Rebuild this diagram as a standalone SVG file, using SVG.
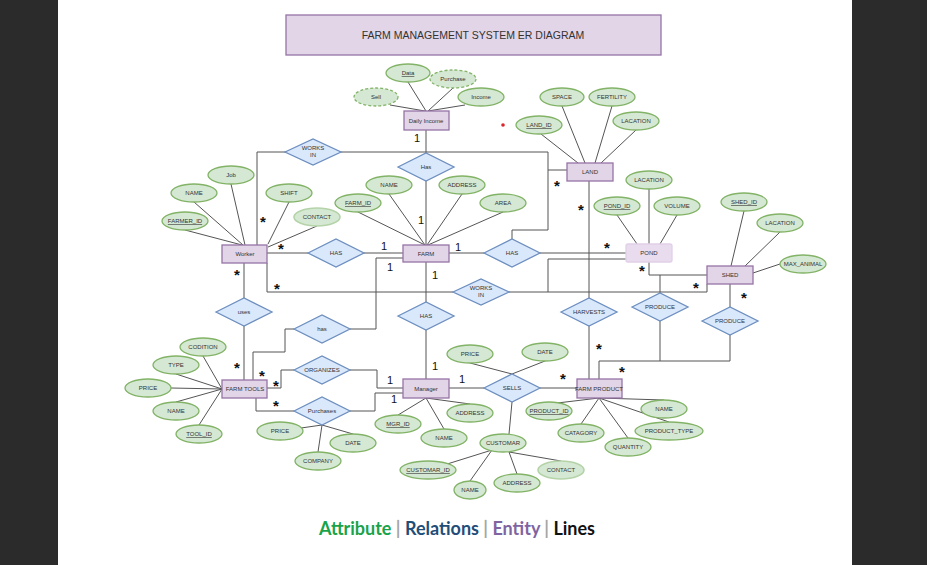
<svg xmlns="http://www.w3.org/2000/svg" width="927" height="565" viewBox="0 0 927 565">
<style>
text{font-family:"Liberation Sans",Arial,sans-serif;fill:#333}
.at ellipse{fill:#d5e8d4;stroke:#82b366;stroke-width:1.3}
.at text{font-size:6px;text-anchor:middle}
.u{text-decoration:underline}
.dash ellipse{stroke-dasharray:3 2}
.lt ellipse{stroke:#b5d3a8;stroke-width:1.6}
.rel polygon{fill:#dae8fc;stroke:#6c8ebf;stroke-width:1.3}
.rel text{font-size:6px;text-anchor:middle}
.ent rect{fill:#e1d5e7;stroke:#9673a6;stroke-width:1.3}
.ent text{font-size:6px;text-anchor:middle}
.ln path,.ln line{stroke:#555;stroke-width:1;fill:none}
.st{font-size:15px;font-weight:bold;fill:#111;text-anchor:middle}
.one{font-size:11px;fill:#111;text-anchor:middle}
</style>
<rect x="0" y="0" width="927" height="565" fill="#2b2b2b"/>
<rect x="58" y="0" width="794" height="565" fill="#ffffff"/>
<g id="title"><rect x="286" y="15" width="375" height="40" fill="#e1d5e7" stroke="#9673a6" stroke-width="1.3"/><text x="473" y="39" style="font-size:10.5px;text-anchor:middle">FARM MANAGEMENT SYSTEM ER DIAGRAM</text></g>
<circle cx="503" cy="125" r="1.8" fill="#d9262b"/>

<g class="ln" id="connectors">
<path d="M408,82 L426,111 M453,88 L428,111 M390,105 L425,111 M465,105 L428,111"/>
<path d="M426,130 V153 M426,181 V245"/>
<path d="M257,245 V152 H548 V230 H512 V239 M548,170 H567"/>
<path d="M541,134 L578,163 M562,106 L585,163 M612,106 L595,163 M636,130 L601,163"/>
<path d="M231,184 L245,245 M194,202 L243,245 M185,230 L242,245 M289,202 L268,244 M317,226 L268,247"/>
<path d="M267,253 H308 M364,253 H403 M449,253 H484 M540,253 H627"/>
<path d="M358,212 L425,245 M389,194 L425,245 M462,194 L427,245 M503,212 L428,245"/>
<path d="M649,189 V244 M617,215 L637,244 M677,215 L660,244"/>
<path d="M744,211 L731,266 M780,232 L745,266 M780,264 L753,273"/>
<path d="M627,259 H548 V292 M649,262 V275 H707"/>
<path d="M267,263 V292 H453 M509,292 H707 V284"/>
<path d="M244,263 V298 M244,326 V380"/>
<path d="M403,258 H376 V329 H350 M294,329 H285 V352 H253 V380"/>
<path d="M426,262 V302 M426,330 V379"/>
<path d="M267,388 H281 V370 H294 M350,370 H377 V388 H403"/>
<path d="M256,398 V411 H294 M350,411 H375 V393 H403"/>
<path d="M449,388 H484 M540,388 H577"/>
<path d="M589,181 V298 M589,326 V379"/>
<path d="M660,275 V293 M660,321 V361 M730,284 V307 M730,335 V361 M599,379 V361 H730"/>
<path d="M222,389 L203,356 M222,389 L176,374 M222,389 L171,388 M222,389 L176,402 M222,389 L199,425"/>
<path d="M322,425 L280,431 M322,425 L353,434 M322,425 L318,452"/>
<path d="M470,363 L512,374 M545,361 L512,374"/>
<path d="M426,398 L398,415 M426,398 L444,429 M426,398 L470,404"/>
<path d="M512,402 L509,434"/>
<path d="M492,450 L428,470 M492,450 L470,481 M509,452 L517,474 M509,452 L561,461"/>
<path d="M599,398 L549,404 M599,398 L664,400 M599,398 L581,424 M599,398 L669,422 M599,398 L628,438"/>
</g>

<g id="e_daily" class="ent"><rect x="404" y="111" width="45" height="19"/><text x="426" y="123">Daily Income</text></g>
<g id="e_land" class="ent"><rect x="567" y="163" width="46" height="18"/><text x="590" y="174">LAND</text></g>
<g id="e_worker" class="ent"><rect x="222" y="245" width="45" height="18"/><text x="245" y="256">Worker</text></g>
<g id="e_farm" class="ent"><rect x="403" y="245" width="46" height="17"/><text x="426" y="256">FARM</text></g>
<g id="e_pond" class="ent"><rect x="626" y="244" width="46" height="18" rx="2" style="fill:#e8dcee;stroke:#e0d0e8"/><text x="649" y="255">POND</text></g>
<g id="e_shed" class="ent"><rect x="707" y="266" width="46" height="18"/><text x="730" y="277">SHED</text></g>
<g id="e_tools" class="ent"><rect x="222" y="380" width="45" height="18"/><text x="245" y="391">FARM TOOLS</text></g>
<g id="e_manager" class="ent"><rect x="403" y="379" width="46" height="19"/><text x="426" y="391">Manager</text></g>
<g id="e_product" class="ent"><rect x="577" y="379" width="45" height="19"/><text x="599" y="391">FARM PRODUCT</text></g>

<g id="r_worksin1" class="rel"><polygon points="285,152 313,139 341,152 313,165"/><text x="313" y="150">WORKS</text><text x="313" y="157">IN</text></g>
<g id="r_has1" class="rel"><polygon points="398,167 426,153 454,167 426,181"/><text x="426" y="169">Has</text></g>
<g id="r_has2" class="rel"><polygon points="308,253 336,239 364,253 336,267"/><text x="336" y="255">HAS</text></g>
<g id="r_has3" class="rel"><polygon points="484,253 512,239 540,253 512,267"/><text x="512" y="255">HAS</text></g>
<g id="r_worksin2" class="rel"><polygon points="453,292 481,279 509,292 481,305"/><text x="481" y="290">WORKS</text><text x="481" y="297">IN</text></g>
<g id="r_uses" class="rel"><polygon points="216,312 244,298 272,312 244,326"/><text x="244" y="314">uses</text></g>
<g id="r_has4" class="rel"><polygon points="294,329 322,315 350,329 322,343"/><text x="322" y="331">has</text></g>
<g id="r_has5" class="rel"><polygon points="398,316 426,302 454,316 426,330"/><text x="426" y="318">HAS</text></g>
<g id="r_harvests" class="rel"><polygon points="561,312 589,298 617,312 589,326"/><text x="589" y="314">HARVESTS</text></g>
<g id="r_produce1" class="rel"><polygon points="632,307 660,293 688,307 660,321"/><text x="660" y="309">PRODUCE</text></g>
<g id="r_produce2" class="rel"><polygon points="702,321 730,307 758,321 730,335"/><text x="730" y="323">PRODUCE</text></g>
<g id="r_organizes" class="rel"><polygon points="294,370 322,356 350,370 322,384"/><text x="322" y="372">ORGANIZES</text></g>
<g id="r_purchases" class="rel"><polygon points="294,411 322,397 350,411 322,425"/><text x="322" y="413">Purchases</text></g>
<g id="r_sells" class="rel"><polygon points="484,388 512,374 540,388 512,402"/><text x="512" y="390">SELLS</text></g>

<g id="a_data" class="at"><ellipse cx="408" cy="73" rx="22" ry="9"/><text x="408" y="75" class="u">Data</text></g>
<g id="a_purchase" class="at dash"><ellipse cx="453" cy="79" rx="23" ry="9"/><text x="453" y="81">Purchase</text></g>
<g id="a_sell" class="at dash"><ellipse cx="376" cy="97" rx="22" ry="9"/><text x="376" y="99">Sell</text></g>
<g id="a_income" class="at"><ellipse cx="481" cy="97" rx="23" ry="9"/><text x="481" y="99">Income</text></g>
<g id="a_space" class="at"><ellipse cx="562" cy="97" rx="22" ry="9"/><text x="562" y="99">SPACE</text></g>
<g id="a_fertility" class="at"><ellipse cx="612" cy="97" rx="23" ry="9"/><text x="612" y="99">FERTILITY</text></g>
<g id="a_land_loc" class="at"><ellipse cx="636" cy="121" rx="23" ry="9"/><text x="636" y="123">LACATION</text></g>
<g id="a_land_id" class="at"><ellipse cx="539" cy="125" rx="23" ry="9"/><text x="539" y="127" class="u">LAND_ID</text></g>
<g id="a_job" class="at"><ellipse cx="231" cy="175" rx="23" ry="9"/><text x="231" y="177">Job</text></g>
<g id="a_w_name" class="at"><ellipse cx="194" cy="193" rx="23" ry="9"/><text x="194" y="195">NAME</text></g>
<g id="a_shift" class="at"><ellipse cx="289" cy="193" rx="23" ry="9"/><text x="289" y="195">SHIFT</text></g>
<g id="a_farmer_id" class="at"><ellipse cx="185" cy="221" rx="23" ry="9"/><text x="185" y="223" class="u">FARMER_ID</text></g>
<g id="a_w_contact" class="at lt"><ellipse cx="317" cy="217" rx="23" ry="9"/><text x="317" y="219">CONTACT</text></g>
<g id="a_f_name" class="at"><ellipse cx="389" cy="185" rx="23" ry="9"/><text x="389" y="187">NAME</text></g>
<g id="a_f_address" class="at"><ellipse cx="462" cy="185" rx="23" ry="9"/><text x="462" y="187">ADDRESS</text></g>
<g id="a_farm_id" class="at"><ellipse cx="358" cy="203" rx="23" ry="9"/><text x="358" y="205" class="u">FARM_ID</text></g>
<g id="a_area" class="at"><ellipse cx="503" cy="203" rx="23" ry="9"/><text x="503" y="205">AREA</text></g>
<g id="a_pond_loc" class="at"><ellipse cx="649" cy="180" rx="23" ry="9"/><text x="649" y="182">LACATION</text></g>
<g id="a_pond_id" class="at"><ellipse cx="617" cy="206" rx="23" ry="9"/><text x="617" y="208" class="u">POND_ID</text></g>
<g id="a_volume" class="at"><ellipse cx="677" cy="206" rx="23" ry="9"/><text x="677" y="208">VOLUME</text></g>
<g id="a_shed_id" class="at"><ellipse cx="744" cy="202" rx="23" ry="9"/><text x="744" y="204" class="u">SHED_ID</text></g>
<g id="a_shed_loc" class="at"><ellipse cx="780" cy="223" rx="23" ry="9"/><text x="780" y="225">LACATION</text></g>
<g id="a_max_animal" class="at"><ellipse cx="803" cy="264" rx="23" ry="9"/><text x="803" y="266">MAX_ANIMAL</text></g>
<g id="a_codition" class="at"><ellipse cx="203" cy="347" rx="23" ry="9"/><text x="203" y="349">CODITION</text></g>
<g id="a_type" class="at"><ellipse cx="176" cy="365" rx="23" ry="9"/><text x="176" y="367">TYPE</text></g>
<g id="a_t_price" class="at"><ellipse cx="148" cy="388" rx="23" ry="9"/><text x="148" y="390">PRICE</text></g>
<g id="a_t_name" class="at"><ellipse cx="176" cy="411" rx="23" ry="9"/><text x="176" y="413">NAME</text></g>
<g id="a_tool_id" class="at"><ellipse cx="199" cy="434" rx="23" ry="9"/><text x="199" y="436" class="u">TOOL_ID</text></g>
<g id="a_p_price" class="at"><ellipse cx="280" cy="431" rx="23" ry="9"/><text x="280" y="433">PRICE</text></g>
<g id="a_p_date" class="at"><ellipse cx="353" cy="443" rx="23" ry="9"/><text x="353" y="445">DATE</text></g>
<g id="a_company" class="at"><ellipse cx="318" cy="461" rx="23" ry="9"/><text x="318" y="463">COMPANY</text></g>
<g id="a_s_price" class="at"><ellipse cx="470" cy="354" rx="23" ry="9"/><text x="470" y="356">PRICE</text></g>
<g id="a_s_date" class="at"><ellipse cx="545" cy="352" rx="23" ry="9"/><text x="545" y="354">DATE</text></g>
<g id="a_m_address" class="at"><ellipse cx="470" cy="413" rx="23" ry="9"/><text x="470" y="415">ADDRESS</text></g>
<g id="a_mgr_id" class="at"><ellipse cx="398" cy="424" rx="23" ry="9"/><text x="398" y="426" class="u">MGR_ID</text></g>
<g id="a_m_name" class="at"><ellipse cx="444" cy="438" rx="23" ry="9"/><text x="444" y="440">NAME</text></g>
<g id="a_customar" class="at"><ellipse cx="503" cy="443" rx="23" ry="9"/><text x="503" y="445">CUSTOMAR</text></g>
<g id="a_customar_id" class="at"><ellipse cx="428" cy="470" rx="28" ry="9"/><text x="428" y="472" class="u">CUSTOMAR_ID</text></g>
<g id="a_c_name" class="at"><ellipse cx="470" cy="490" rx="16" ry="9"/><text x="470" y="492">NAME</text></g>
<g id="a_c_address" class="at"><ellipse cx="517" cy="483" rx="23" ry="9"/><text x="517" y="485">ADDRESS</text></g>
<g id="a_c_contact" class="at lt"><ellipse cx="561" cy="470" rx="23" ry="9"/><text x="561" y="472">CONTACT</text></g>
<g id="a_product_id" class="at"><ellipse cx="549" cy="411" rx="23" ry="9"/><text x="549" y="413" class="u">PRODUCT_ID</text></g>
<g id="a_pr_name" class="at"><ellipse cx="664" cy="409" rx="23" ry="9"/><text x="664" y="411">NAME</text></g>
<g id="a_catagory" class="at"><ellipse cx="581" cy="433" rx="23" ry="9"/><text x="581" y="435">CATAGORY</text></g>
<g id="a_product_type" class="at"><ellipse cx="669" cy="431" rx="34" ry="9"/><text x="669" y="433">PRODUCT_TYPE</text></g>
<g id="a_quantity" class="at"><ellipse cx="628" cy="447" rx="23" ry="9"/><text x="628" y="449">QUANTITY</text></g>

<g id="cardinality">
<text class="st" x="263" y="227">*</text><text class="st" x="281" y="254">*</text><text class="st" x="237" y="280">*</text><text class="st" x="277" y="294">*</text>
<text class="st" x="557" y="191">*</text><text class="st" x="581" y="215">*</text><text class="st" x="607" y="253">*</text><text class="st" x="642" y="276">*</text>
<text class="st" x="696" y="293">*</text><text class="st" x="744" y="303">*</text><text class="st" x="237" y="373">*</text><text class="st" x="262" y="381">*</text>
<text class="st" x="276" y="391">*</text><text class="st" x="276" y="411">*</text><text class="st" x="599" y="354">*</text><text class="st" x="622" y="377">*</text><text class="st" x="563" y="384">*</text>
<text class="one" x="417" y="142">1</text><text class="one" x="421" y="224">1</text><text class="one" x="384" y="250">1</text><text class="one" x="458" y="251">1</text>
<text class="one" x="390" y="271">1</text><text class="one" x="435" y="279">1</text><text class="one" x="435" y="370">1</text><text class="one" x="390" y="384">1</text>
<text class="one" x="462" y="383">1</text><text class="one" x="394" y="403">1</text>
</g>

<g id="legend"><text x="457" y="535" style="font-family:Lato,'Liberation Sans',sans-serif;font-size:18px;font-weight:bold;text-anchor:middle"><tspan fill="#1aa34a">Attribute</tspan><tspan fill="#a6a6a6"> | </tspan><tspan fill="#1f4e79">Relations</tspan><tspan fill="#a6a6a6"> | </tspan><tspan fill="#8064a2">Entity</tspan><tspan fill="#a6a6a6"> | </tspan><tspan fill="#111">Lines</tspan></text></g>
</svg>
